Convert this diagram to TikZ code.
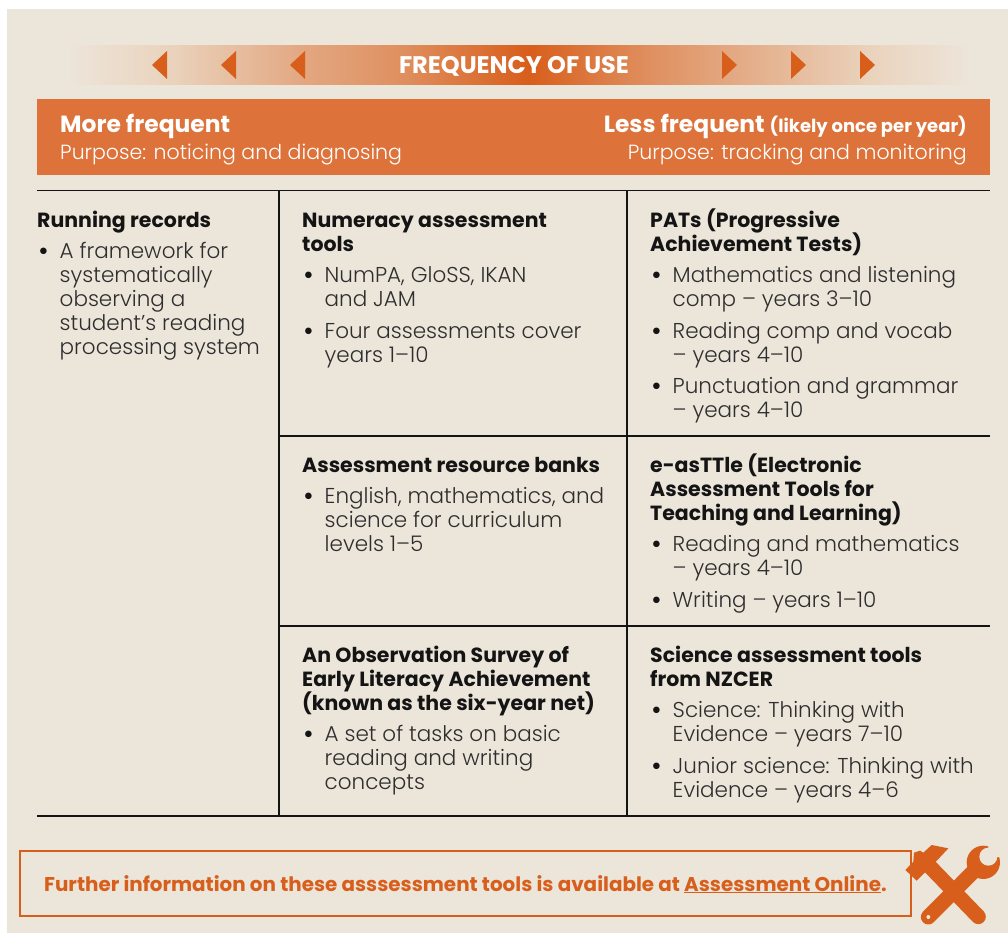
\documentclass[tikz,border=0pt]{standalone}
\usepackage{fontspec}
\setmainfont{Poppins Light}
\newfontfamily\boldface{Poppins Bold}
\definecolor{panel}{HTML}{ECE5DA}
\definecolor{band}{HTML}{DD733A}
\definecolor{deep}{HTML}{D85E1B}
\definecolor{ink}{HTML}{141414}
\definecolor{bodyink}{HTML}{2E2E2E}
\definecolor{gra}{HTML}{EAD3BD}
\definecolor{grb}{HTML}{E3A882}
\definecolor{grc}{HTML}{DF9060}
\newcommand{\hd}[1]{\smash{\boldface\fontsize{20.5}{24}\selectfont\color{ink}#1}}
\newcommand{\fs}{\rule{0pt}{20pt}}
\newcommand{\bl}{\makebox[22.5pt][l]{\hspace{1pt}{\boldface\color{ink}•}}}
\newcommand{\ind}{\hspace*{22.5pt}}
\tikzset{
  x=1pt,y=-1pt,
  cell/.style={anchor=north west,inner sep=0pt,align=left,text=bodyink,font=\fontsize{21.5}{24}\selectfont},
  rule/.style={draw=ink,line width=1.4pt},
  tri/.style={fill=deep,draw=none},
  whitetxt/.style={inner sep=0pt,text=white},
}
\begin{document}
\begin{tikzpicture}
\useasboundingbox (0,0) rectangle (1008,933);
\fill[panel] (7,9) rectangle (1008,933);
% gradient bar
\fill[left color=panel,right color=gra] (67,46) rectangle (170.5,85);
\fill[left color=gra,right color=grb] (170,46) rectangle (300.5,85);
\fill[left color=grb,right color=grc] (300,46) rectangle (400.5,85);
\fill[left color=grc,right color=deep] (400,46) rectangle (528.5,85);
\fill[left color=deep,right color=grc] (528,46) rectangle (650.5,85);
\fill[left color=grc,right color=grb] (650,46) rectangle (730.5,85);
\fill[left color=grb,right color=gra] (730,46) rectangle (870.5,85);
\fill[left color=gra,right color=panel] (870,46) rectangle (970,85);
\foreach \x in {152,221,290}{\fill[tri] (\x,65) -- (\x+15,51) -- (\x+15,79) -- cycle;}
\foreach \x in {722,791,860}{\fill[tri] (\x+15,65) -- (\x,51) -- (\x,79) -- cycle;}
\node[whitetxt,anchor=base,font=\fontsize{24}{24}\selectfont\boldface] (freq) at (514,74) {FREQUENCY OF USE};
% header band
\fill[band] (37,99) rectangle (990,175);
\node[whitetxt,anchor=base west,font=\fontsize{23.4}{24}\selectfont\boldface] (more) at (60,132.5) {More frequent};
\node[whitetxt,anchor=base west,font=\fontsize{20.5}{24}\selectfont] (morep) at (60,160) {Purpose: noticing and diagnosing};
\node[whitetxt,anchor=base east,font=\fontsize{23.4}{24}\selectfont\boldface] (less) at (967,132.5) {Less frequent {\fontsize{18}{24}\selectfont (likely once per year)}};
\node[whitetxt,anchor=base east,font=\fontsize{20.5}{24}\selectfont] (lessp) at (967,160) {Purpose: tracking and monitoring};
% table rules
\coordinate (tl) at (37,190.5); \coordinate (tr) at (990,190.5);
\coordinate (bl) at (37,816); \coordinate (br) at (990,816);
\coordinate (c1t) at (279,190.5); \coordinate (c1b) at (279,816);
\coordinate (c2t) at (627,190.5); \coordinate (c2b) at (627,816);
\coordinate (r1l) at (279,436); \coordinate (r1r) at (990,436);
\coordinate (r2l) at (279,626); \coordinate (r2r) at (990,626);
\draw[rule] (tl) -- (tr);
\draw[rule] (bl) -- (br);
\draw[rule] (c1t) -- (c1b);
\draw[rule] (c2t) -- (c2b);
\draw[rule] (r1l) -- (r1r);
\draw[rule] (r2l) -- (r2r);
% cells
\node[cell] (a) at (37,207) {\fs\hd{Running records}\\[7.5pt]
\bl A framework for\\ \ind systematically\\ \ind observing a\\ \ind student’s reading\\ \ind processing system};
\node[cell] (b) at (302,207) {\fs\hd{Numeracy assessment}\\ \hd{tools}\\[7.5pt]
\bl NumPA, GloSS, IKAN\\ \ind and JAM\\[7.5pt]
\bl Four assessments cover\\ \ind years 1–10};
\node[cell] (c) at (650,207) {\fs\hd{PATs (Progressive}\\ \hd{Achievement Tests)}\\[7.5pt]
\bl Mathematics and listening\\ \ind comp – years 3–10\\[7.5pt]
\bl Reading comp and vocab\\ \ind – years 4–10\\[7.5pt]
\bl Punctuation and grammar\\ \ind – years 4–10};
\node[cell] (d) at (302,452) {\fs\hd{Assessment resource banks}\\[7.5pt]
\bl English, mathematics, and\\ \ind science for curriculum\\ \ind levels 1–5};
\node[cell] (e) at (650,452) {\fs\hd{e-asTTle (Electronic}\\ \hd{Assessment Tools for}\\ \hd{Teaching and Learning)}\\[7.5pt]
\bl Reading and mathematics\\ \ind – years 4–10\\[7.5pt]
\bl Writing – years 1–10};
\node[cell] (f) at (302,642) {\fs\hd{An Observation Survey of}\\ \hd{Early Literacy Achievement}\\ \hd{(known as the six-year net)}\\[7.5pt]
\bl A set of tasks on basic\\ \ind reading and writing\\ \ind concepts};
\node[cell] (g) at (650,642) {\fs\hd{Science assessment tools}\\ \hd{from NZCER}\\[7.5pt]
\bl Science: Thinking with\\ \ind Evidence – years 7–10\\[7.5pt]
\bl Junior science: Thinking with\\ \ind Evidence – years 4–6};
% footer
\draw[deep,line width=2.5pt] (20,851) rectangle (911,916);
\node[anchor=base west,inner sep=0pt,text=deep,font=\fontsize{19.9}{24}\selectfont\boldface] (foot) at (44,891) {Further information on these asssessment tools is available at \underline{Assessment Online}.};
% tool icon
\begin{scope}[shift={(860,800)},x=0.3333pt,y=-0.3333pt]
\draw[deep,line width=15pt,line cap=round] (205,351) -- (345,210);
\draw[deep,line width=15pt,line cap=round] (355,350) -- (205,195);
\fill[deep] (136,210) -- (170,242) -- (235,177) -- (265,145) -- (215,135) -- (190,158) -- (180,152) -- (162,158) -- (160,185) -- cycle;
\fill[deep] (370,187) circle (50);
\fill[panel] (385,170) circle (27);
\fill[panel] (385,170) -- (385,130) -- (430,130) -- (430,172) -- cycle;
\fill[panel] (205,351) circle (6);
\end{scope}
\end{tikzpicture}
\end{document}
